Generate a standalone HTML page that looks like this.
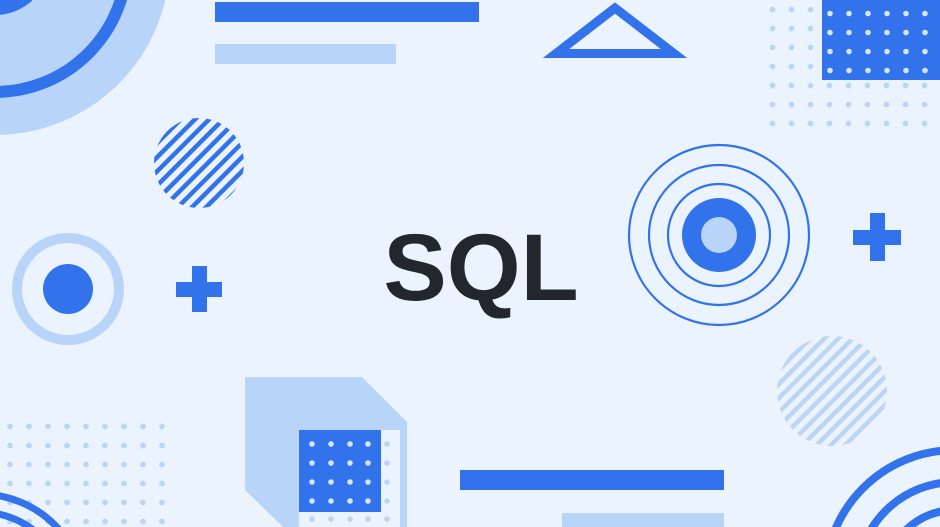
<!DOCTYPE html>
<html><head><style>html,body{margin:0;padding:0;background:#ebf4fe;overflow:hidden;width:940px;height:527px}svg{display:block}</style></head><body>
<svg width="940" height="527" viewBox="0 0 940 527" xmlns="http://www.w3.org/2000/svg">
<defs>
<pattern id="dotsL" x="0" y="0" width="19" height="19" patternUnits="userSpaceOnUse"><circle cx="9.5" cy="9.5" r="2.9" fill="#bcd5f7"/></pattern>
<pattern id="stripeB" width="10" height="10" patternUnits="userSpaceOnUse" patternTransform="rotate(45)"><rect width="4.5" height="10" fill="#3273ec"/></pattern>
<pattern id="stripeL" width="10" height="10" patternUnits="userSpaceOnUse" patternTransform="rotate(45)"><rect width="4.5" height="10" fill="#bcd5f7"/></pattern>
</defs>
<rect width="940" height="527" fill="#ebf4fe"/>
<circle cx="-5" cy="-40" r="175" fill="#b8d4f8"/>
<circle cx="-5" cy="-40" r="132" fill="none" stroke="#3273ec" stroke-width="12"/>
<circle cx="-5" cy="-40" r="55" fill="#3273ec"/>
<rect x="215" y="2" width="264" height="20" fill="#3273ec"/>
<rect x="215" y="44" width="181" height="20" fill="#b8d4f8"/>
<polygon points="615,8 556,53.5 674,53.5" fill="none" stroke="#3273ec" stroke-width="9"/>
<rect x="763" y="4" width="171" height="133" fill="url(#dotsL)" transform="translate(3,0)"/>
<rect x="822" y="0" width="118" height="80" fill="#3273ec"/>
<g fill="#d7e6fb">
<circle cx="830" cy="13.5" r="2.8"/><circle cx="849" cy="13.5" r="2.8"/><circle cx="868" cy="13.5" r="2.8"/><circle cx="887" cy="13.5" r="2.8"/><circle cx="906" cy="13.5" r="2.8"/><circle cx="925" cy="13.5" r="2.8"/>
<circle cx="830" cy="32.5" r="2.8"/><circle cx="849" cy="32.5" r="2.8"/><circle cx="868" cy="32.5" r="2.8"/><circle cx="887" cy="32.5" r="2.8"/><circle cx="906" cy="32.5" r="2.8"/><circle cx="925" cy="32.5" r="2.8"/>
<circle cx="830" cy="51.5" r="2.8"/><circle cx="849" cy="51.5" r="2.8"/><circle cx="868" cy="51.5" r="2.8"/><circle cx="887" cy="51.5" r="2.8"/><circle cx="906" cy="51.5" r="2.8"/><circle cx="925" cy="51.5" r="2.8"/>
<circle cx="830" cy="70.5" r="2.8"/><circle cx="849" cy="70.5" r="2.8"/><circle cx="868" cy="70.5" r="2.8"/><circle cx="887" cy="70.5" r="2.8"/><circle cx="906" cy="70.5" r="2.8"/><circle cx="925" cy="70.5" r="2.8"/>
</g>
<circle cx="199" cy="163" r="45" fill="url(#stripeB)"/>
<circle cx="68" cy="289" r="51" fill="none" stroke="#b8d4f8" stroke-width="10"/>
<circle cx="68" cy="289" r="25" fill="#3273ec"/>
<rect x="192" y="266" width="15" height="46" fill="#3273ec"/>
<rect x="176" y="282" width="46" height="15" fill="#3273ec"/>
<text x="481" y="300" text-anchor="middle" font-family="Liberation Sans, sans-serif" font-weight="bold" font-size="95" fill="#22272e">SQL</text>
<g fill="none" stroke="#3273ec" stroke-width="2.2">
<circle cx="719" cy="235" r="90"/><circle cx="719" cy="235" r="70"/><circle cx="719" cy="235" r="51"/>
</g>
<circle cx="719" cy="235" r="37" fill="#3273ec"/>
<circle cx="719" cy="235" r="18" fill="#b8d4f8"/>
<rect x="870" y="213" width="15" height="48" fill="#3273ec"/>
<rect x="853" y="230" width="48" height="15" fill="#3273ec"/>
<circle cx="832" cy="391" r="55" fill="url(#stripeL)"/>
<rect x="460" y="470" width="264" height="20" fill="#3273ec"/>
<rect x="562" y="513" width="162" height="14" fill="#b8d4f8"/>
<g fill="none" stroke="#3273ec" stroke-width="8">
<circle cx="955" cy="580" r="130"/><circle cx="955" cy="580" r="98"/><circle cx="955" cy="580" r="70"/>
</g>
<rect x="0" y="412" width="171" height="115" fill="url(#dotsL)" transform="translate(0.5,-1)"/>
<g fill="none" stroke="#3273ec" stroke-width="7">
<circle cx="-20" cy="600" r="106"/><circle cx="-20" cy="600" r="88"/>
</g>
<polygon points="245,377 362,377 407,422 407,527 283,527 245,490" fill="#b8d4f8"/>
<rect x="299" y="430" width="101" height="97" fill="#ebf4fe"/>
<rect x="299" y="430" width="82" height="82" fill="#3273ec"/>
<g fill="#d7e6fb">
<circle cx="312" cy="444" r="2.8"/><circle cx="331" cy="444" r="2.8"/><circle cx="350" cy="444" r="2.8"/><circle cx="368" cy="444" r="2.8"/>
<circle cx="312" cy="463" r="2.8"/><circle cx="331" cy="463" r="2.8"/><circle cx="350" cy="463" r="2.8"/><circle cx="368" cy="463" r="2.8"/>
<circle cx="312" cy="482" r="2.8"/><circle cx="331" cy="482" r="2.8"/><circle cx="350" cy="482" r="2.8"/><circle cx="368" cy="482" r="2.8"/>
<circle cx="312" cy="501" r="2.8"/><circle cx="331" cy="501" r="2.8"/><circle cx="350" cy="501" r="2.8"/><circle cx="368" cy="501" r="2.8"/>
</g>
<g fill="#bcd5f7">
<circle cx="387" cy="444" r="2.8"/><circle cx="387" cy="463" r="2.8"/><circle cx="387" cy="482" r="2.8"/><circle cx="387" cy="501" r="2.8"/>
<circle cx="312" cy="519" r="2.8"/><circle cx="331" cy="519" r="2.8"/><circle cx="350" cy="519" r="2.8"/><circle cx="368" cy="519" r="2.8"/><circle cx="387" cy="519" r="2.8"/>
</g>
</svg>
</body></html>
